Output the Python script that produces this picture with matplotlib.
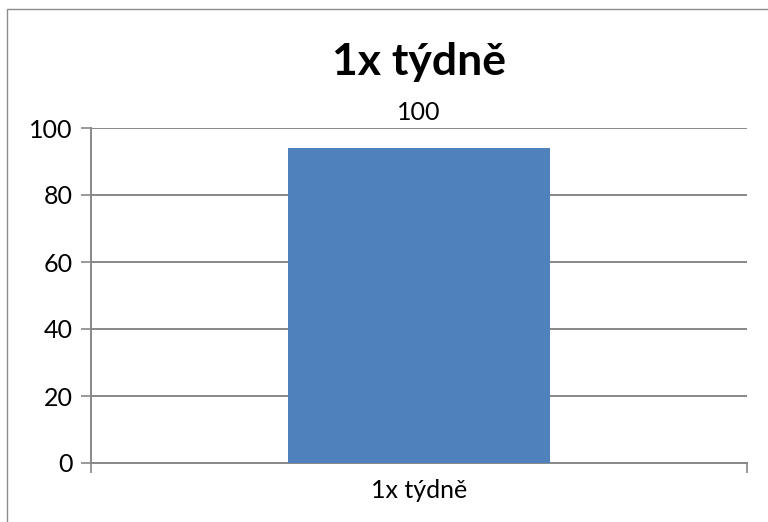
import matplotlib
matplotlib.use("Agg")
import matplotlib.pyplot as plt
from matplotlib.patches import Rectangle

categories = ["1x týdně"]
values = [94]
value_labels = ["100"]
label_anchor = [100]
yticks = [0, 20, 40, 60, 80, 100]
title = "1x týdně"

plt.rcParams['font.family'] = ['Lato', 'DejaVu Sans']

W, H = 768, 522
fig = plt.figure(figsize=(W / 100, H / 100), dpi=100)
fig.patch.set_facecolor("white")
fig.patches.append(Rectangle((7 / W, -0.1), 1.2, 1 - 9 / H + 0.1, transform=fig.transFigure,
                             fill=False, edgecolor="#8c8c8c", linewidth=1.0))

l, r, t, b = 91, 747, 128, 463
ax = fig.add_axes([l / W, 1 - b / H, (r - l) / W, (b - t) / H])
x = list(range(len(categories)))
ax.bar(x, values, width=0.4, color="#4F81BD", zorder=3)
ax.set_xlim(-0.5, len(categories) - 0.5)
ax.set_ylim(0, 100)
ax.set_yticks(yticks)
ax.set_yticklabels([str(v) for v in yticks], fontsize=18)
ax.yaxis.grid(True, color="#888888", linewidth=1.4, zorder=0)
ax.set_axisbelow(True)
ax.set_xticks([-0.5 + i for i in range(len(categories) + 1)])
ax.set_xticklabels([""] * (len(categories) + 1))
ax.tick_params(axis='x', length=7, width=1.2, color="#888888", direction='out')
ax.tick_params(axis='y', length=7, width=1.2, color="#888888", direction='out', pad=6)
for i, c in enumerate(categories):
    ax.annotate(c, (i, 0), xycoords=('data', 'axes fraction'), xytext=(0, -19.5),
                textcoords='offset points', ha='center', va='center', fontsize=18,
                annotation_clip=False)
for s in ['top', 'right']:
    ax.spines[s].set_visible(False)
for s in ['left', 'bottom']:
    ax.spines[s].set_color("#888888")
    ax.spines[s].set_linewidth(1.4)
for i, (lab, yv) in enumerate(zip(value_labels, label_anchor)):
    ax.annotate(lab, (i, yv), xytext=(0, 11), textcoords='offset points',
                ha='center', va='center', fontsize=18)
fig.text(419 / W, 1 - 62 / H, title, ha='center', va='center', fontsize=32, fontweight='bold')
fig.savefig("out.png", dpi=100)
